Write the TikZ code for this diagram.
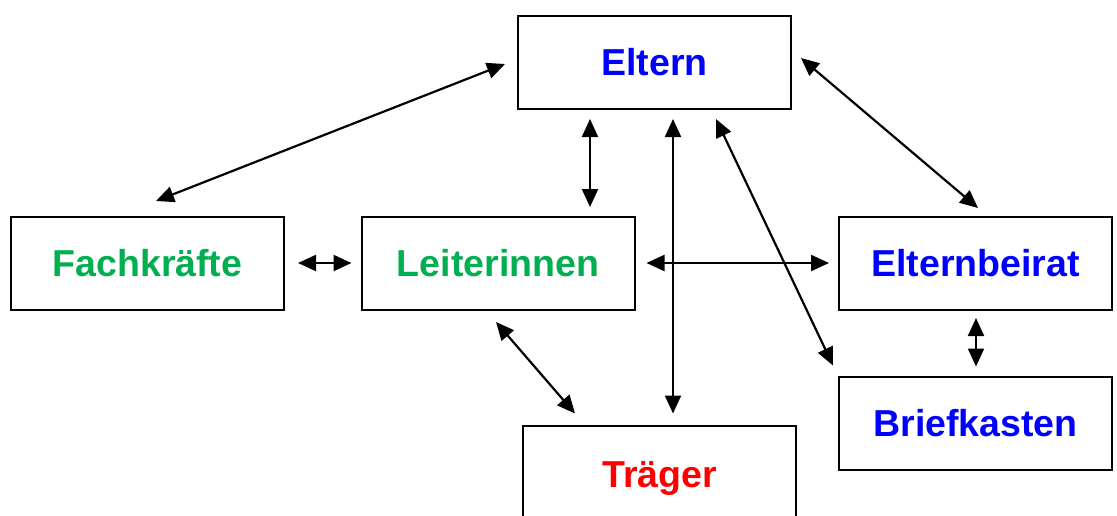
\documentclass[tikz,border=0pt]{standalone}
\usepackage{fontspec}
\setmainfont{Liberation Sans}
\usetikzlibrary{arrows.meta,calc}
\definecolor{cblue}{RGB}{0,0,255}
\definecolor{cgreen}{RGB}{0,176,80}
\definecolor{cred}{RGB}{255,0,0}
\begin{document}
\begin{tikzpicture}[x=1pt,y=-1pt,
  box/.style={draw=black,line width=2pt,minimum width=273pt,minimum height=93pt,inner sep=0pt,
    font=\fontsize{37.5}{42}\selectfont\bfseries},
  arr/.style={line width=2.2pt,{Triangle[length=18pt,width=16pt]}-{Triangle[length=18pt,width=16pt]}}]
\useasboundingbox (0,0) rectangle (1117,515);
\node[box,text=cblue] (eltern) at (654.5,62) {Eltern};
\node[box,text=cgreen] (fach) at (147.5,263) {Fachkräfte};
\node[box,text=cgreen] (leit) at (498,263) {Leiterinnen};
\node[box,text=cblue] (beirat) at (975.5,263) {Elternbeirat};
\node[box,text=cblue] (brief) at (975.5,423.5) {Briefkasten};
\node[box,text=cred,minimum height=106pt] (traeger) at (659.5,478.5) {Träger};
\draw[arr] ($(eltern.west)+(-12,2)$) -- ($(fach.north)+(8.5,-14.5)$);
\draw[arr] ($(eltern.south)+(-64.5,9.5)$) -- ($(leit.north)+(92,-8.5)$);
\draw[arr] ($(eltern.south)+(18.5,9.5)$) -- ($(traeger.north)+(13.5,-11)$);
\draw[arr] ($(eltern.south)+(61.5,9.5)$) -- ($(brief.north west)+(-5,-10.5)$);
\draw[arr] ($(eltern.east)+(9,-4)$) -- ($(beirat.north)+(2.5,-7.5)$);
\draw[arr] ($(fach.east)+(13,0)$) -- ($(leit.west)+(-9,0)$);
\draw[arr] ($(leit.east)+(11,0)$) -- ($(beirat.west)+(-9,0)$);
\draw[arr] ($(leit.south)+(-2,11.5)$) -- ($(traeger.north)+(-84.5,-11)$);
\draw[arr] ($(beirat.south)+(0.5,7.5)$) -- ($(brief.north)+(0.5,-9.5)$);
\end{tikzpicture}
\end{document}
